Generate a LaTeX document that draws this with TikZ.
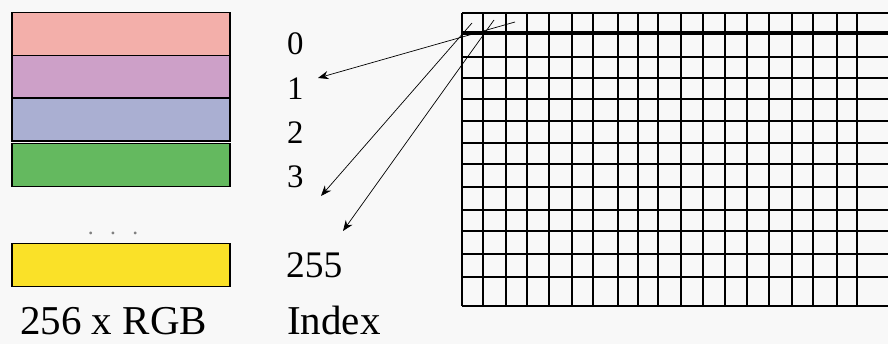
\documentclass[tikz,border=0pt]{standalone}
\usepackage{fontspec}
\setmainfont{Liberation Serif}
\usetikzlibrary{arrows.meta,positioning}

\definecolor{palpink}{HTML}{F3AFAA}
\definecolor{palviolet}{HTML}{CDA0C8}
\definecolor{palblue}{HTML}{AAAFD2}
\definecolor{palgreen}{HTML}{64B95F}
\definecolor{palyellow}{HTML}{FAE128}
\definecolor{paper}{HTML}{F8F8F8}

\tikzset{
    palbox/.style={draw, line width=1.2pt, minimum width=6.54cm, minimum height=1.29cm, inner sep=0pt},
    idx/.style={anchor=west, inner sep=0pt, font=\fontsize{28}{28}\selectfont},
    caption/.style={anchor=base west, inner sep=0pt, font=\fontsize{35}{35}\selectfont},
    gridline/.style={line width=1.3pt},
    lookup/.style={line width=0.6pt, -{Stealth[length=9pt,width=7pt]}}
}

\begin{document}
\begin{tikzpicture}[x=0.03cm, y=-0.03cm]

    % Paper
    \fill[paper] (0,0) rectangle (888,344);
    \useasboundingbox (0,0) rectangle (888,344);

    % Palette
    \foreach \i/\c/\y in {
            0/palpink/34,1/palviolet/77,
            2/palblue/119.5,3/palgreen/165,
            255/palyellow/265
            } {
        \node[palbox, fill=\c] (pal\i) at (121,\y) {};
    }
    \node[anchor=base, text=gray, font=\fontsize{20}{20}\selectfont] (dots) at (113,235) {.\hspace{14pt}.\hspace{14pt}.};

    % Indices
    \foreach \i/\y in {0/44,1/89,2/132.5,3/176.5} {
        \node[idx] (id\i) at (287,\y) {\i};
    }
    \node[idx, font=\fontsize{32}{32}\selectfont] (id255) at (286,265) {255};

    % Labels
    \node[caption] (rgblabel) at (20,335) {256 x RGB};
    \node[caption] (idxlabel) at (287,335) {Index};

    % Image
    \foreach \x in {462,483,506,527,549,572,593,618,638,658,681,703,725,747,769,792,813,837,857} {
        \draw[gridline] (\x,13) -- (\x,306);
    }
    \foreach \y in {13,57,78,99,121,143,164,187,210,231,254,277,306} {
        \draw[gridline] (462,\y) -- (888,\y);
    }
    \draw[line width=2.6pt] (462,33) -- (888,33);

    % Lookups
    \coordinate (src1) at (515,22);
    \coordinate (src2) at (472,23);
    \coordinate (src3) at (494,20);
    \coordinate (tip1) at (318,78);
    \coordinate (tip2) at (321,196);
    \coordinate (tip3) at (343,231);
    \draw[lookup] (src1) -- (tip1);
    \draw[lookup] (src2) -- (tip2);
    \draw[lookup] (src3) -- (tip3);

\end{tikzpicture}
\end{document}
